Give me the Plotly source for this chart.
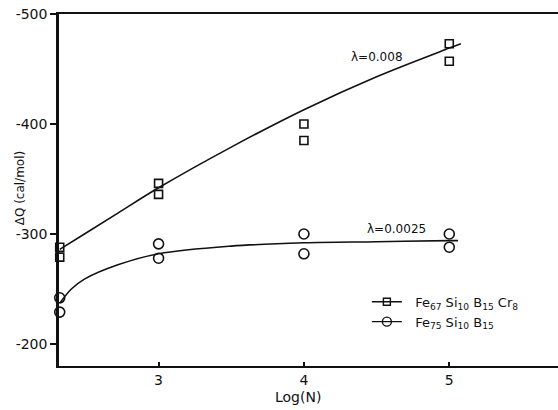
import plotly.graph_objects as go

# Measured heat of relaxation vs. log of cycle count
log_n = [2.32, 2.32, 3, 3, 4, 4, 5, 5]
dq_fesibcr = [-288, -279, -346, -336, -400, -385, -473, -457]
dq_fesib = [-242, -229, -291, -278, -300, -282, -300, -288]

# Fitted curves
fit_cr_x = [2.32, 2.49, 2.72, 3.0, 3.5, 4.0, 4.5, 5.0, 5.08]
fit_cr_y = [-286, -300, -319, -342, -379, -413, -443, -469, -473]
fit_b_x = [2.32, 2.4, 2.49, 2.72, 3.0, 3.5, 4.0, 4.5, 5.0, 5.06]
fit_b_y = [-237, -250, -259, -272, -282, -289, -292, -293, -294, -294]

x_ticks = [3, 4, 5]
y_ticks = [-500, -400, -300, -200]

FONT = "DejaVu Sans"
INK = "#111111"
PAD = "\u00a0\u00a0"

fig = go.Figure()

fig.add_trace(go.Scatter(x=fit_cr_x, y=fit_cr_y, mode="lines",
                         line=dict(color=INK, width=1.6, shape="spline"),
                         showlegend=False, hoverinfo="skip"))
fig.add_trace(go.Scatter(x=fit_b_x, y=fit_b_y, mode="lines",
                         line=dict(color=INK, width=1.6, shape="spline"),
                         showlegend=False, hoverinfo="skip"))

fig.add_trace(go.Scatter(x=log_n, y=dq_fesibcr, mode="markers",
                         marker=dict(symbol="square-open", size=8, color=INK,
                                     line=dict(width=1.6, color=INK)),
                         cliponaxis=False, showlegend=False))
fig.add_trace(go.Scatter(x=log_n, y=dq_fesib, mode="markers",
                         marker=dict(symbol="circle-open", size=10, color=INK,
                                     line=dict(width=1.6, color=INK)),
                         cliponaxis=False, showlegend=False))

# Legend entries
fig.add_trace(go.Scatter(x=[None], y=[None], mode="lines+markers",
                         name=PAD + "Fe<sub>67</sub> Si<sub>10</sub> B<sub>15</sub> Cr<sub>8</sub>",
                         line=dict(color=INK, width=1.4),
                         marker=dict(symbol="square-open", size=7, color=INK,
                                     line=dict(width=1.4, color=INK))))
fig.add_trace(go.Scatter(x=[None], y=[None], mode="lines+markers",
                         name=PAD + "Fe<sub>75</sub> Si<sub>10</sub> B<sub>15</sub>",
                         line=dict(color=INK, width=1.4),
                         marker=dict(symbol="circle-open", size=9, color=INK,
                                     line=dict(width=1.4, color=INK))))

fig.add_annotation(x=4.50, y=-461, text="λ=0.008", showarrow=False,
                   font=dict(family=FONT, size=12, color=INK))
fig.add_annotation(x=4.64, y=-304.5, text="λ=0.0025", showarrow=False,
                   font=dict(family=FONT, size=12, color=INK))

fig.add_annotation(xref="paper", yref="paper", x=0.479, y=-0.088,
                   xanchor="center", yanchor="middle",
                   text="Log(N)", showarrow=False,
                   font=dict(family=FONT, size=14, color=INK))
fig.add_annotation(xref="paper", yref="paper", x=-0.078, y=0.505,
                   xanchor="center", yanchor="middle",
                   text="ΔQ (cal/mol)", textangle=-90, showarrow=False,
                   font=dict(family=FONT, size=12, color=INK))

fig.update_xaxes(range=[2.315, 5.748], tickvals=x_ticks,
                 ticktext=[str(v) for v in x_ticks],
                 ticks="inside", ticklen=4, tickcolor=INK, tickwidth=1.5,
                 showline=True, linecolor=INK, linewidth=2, mirror=True,
                 showgrid=False, zeroline=False,
                 tickfont=dict(family=FONT, size=14, color=INK))
fig.update_yaxes(range=[-180, -500], tickvals=y_ticks,
                 ticktext=[str(v) for v in y_ticks],
                 ticks="outside", ticklen=6, tickcolor=INK, tickwidth=1.5,
                 showline=True, linecolor=INK, linewidth=2.5,
                 showgrid=False, zeroline=False,
                 tickfont=dict(family=FONT, size=14, color=INK))

fig.update_layout(
    width=558, height=410,
    margin=dict(l=59, r=0, t=14, b=44),
    paper_bgcolor="white", plot_bgcolor="white",
    font=dict(family=FONT, color=INK),
    legend=dict(x=0.617, y=0.225, xanchor="left", yanchor="top",
                bgcolor="rgba(0,0,0,0)", borderwidth=0,
                font=dict(family=FONT, size=13, color=INK),
                tracegroupgap=2),
)

fig.write_html("out.html")
